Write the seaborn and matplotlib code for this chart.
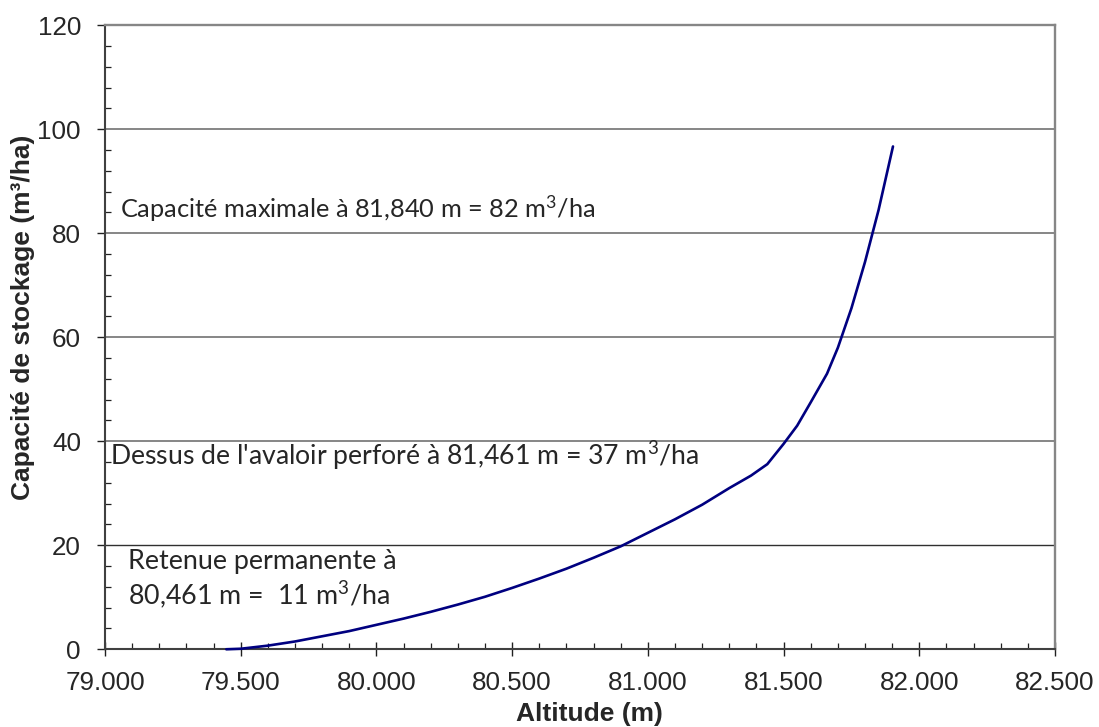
import matplotlib
matplotlib.use("Agg")
import matplotlib.pyplot as plt
import seaborn as sns
import pandas as pd
from matplotlib.ticker import MultipleLocator, FuncFormatter

altitude = [79.447, 79.5, 79.6, 79.7, 79.8, 79.9, 80.0, 80.1, 80.2, 80.3, 80.4,
            80.5, 80.6, 80.7, 80.8, 80.9, 81.0, 81.1, 81.2, 81.3, 81.38, 81.44,
            81.5, 81.55, 81.6, 81.66, 81.7, 81.75, 81.8, 81.85, 81.903]
capacite = [0.0, 0.1, 0.7, 1.5, 2.5, 3.5, 4.7, 5.9, 7.2, 8.6, 10.1,
            11.8, 13.6, 15.5, 17.6, 19.8, 22.4, 25.0, 27.8, 31.0, 33.4, 35.6,
            39.5, 43.0, 47.5, 53.0, 58.0, 65.6, 74.5, 84.5, 96.7]

annot_lines = [r"Capacité maximale à 81,840 m = 82 m$^\mathrm{3}$/ha",
               r"Dessus de l'avaloir perforé à 81,461 m = 37 m$^\mathrm{3}$/ha",
               r"Retenue permanente à",
               r"80,461 m =  11 m$^\mathrm{3}$/ha"]

df = pd.DataFrame({"Altitude": altitude, "Capacite": capacite})

sns.set_style("white")
plt.rcParams['font.family'] = ['Liberation Sans', 'DejaVu Sans']
plt.rcParams['mathtext.fontset'] = 'custom'
plt.rcParams['mathtext.rm'] = 'Lato'
plt.rcParams['mathtext.it'] = 'Lato:italic'
plt.rcParams['mathtext.bf'] = 'Lato:bold'

fig = plt.figure(figsize=(10.99, 7.27), dpi=100)
ax = fig.add_axes([0.0955, 0.1069, 0.8645, 0.8583])

sns.lineplot(data=df, x="Altitude", y="Capacite", sort=False, ax=ax,
             color="#000080", linewidth=1.9, zorder=5, clip_on=False)

ax.set_xlim(79.0, 82.5)
ax.set_ylim(0, 120)
ax.xaxis.set_major_locator(MultipleLocator(0.5))
ax.xaxis.set_minor_locator(MultipleLocator(0.1))
ax.yaxis.set_major_locator(MultipleLocator(20))
ax.yaxis.set_minor_locator(MultipleLocator(4))
ax.xaxis.set_major_formatter(FuncFormatter(lambda v, p: f"{v:.3f}"))

for yv in [40, 60, 80, 100]:
    ax.axhline(yv, color="#868686", linewidth=1.4, zorder=0)
ax.axhline(20, color="#303030", linewidth=1.0, zorder=0)

for s in ["top", "right"]:
    ax.spines[s].set_color("#868686")
    ax.spines[s].set_linewidth(1.7)
for s in ["left", "bottom"]:
    ax.spines[s].set_color("#404040")
    ax.spines[s].set_linewidth(1.5)

ax.tick_params(axis="x", which="major", direction="inout", length=9.4, width=1.0,
               color="#202020", labelsize=18.7, pad=11, bottom=True)
ax.tick_params(axis="x", which="minor", direction="in", length=4.3, width=0.9,
               color="#202020", bottom=True)
ax.tick_params(axis="y", which="major", direction="out", length=5.8, width=1.0,
               color="#202020", labelsize=18.7, pad=11.5, left=True)
ax.tick_params(axis="y", which="minor", direction="in", length=4.1, width=0.9,
               color="#202020", left=True)

ax.set_xlabel("Altitude (m)", fontsize=19, fontweight="bold")
ax.set_ylabel("Capacité de stockage (m³/ha)", fontsize=19, fontweight="bold")
ax.xaxis.set_label_coords(0.5095, -0.085)
ax.yaxis.set_label_coords(-0.0737, 0.5325)

afont = ['Lato', 'DejaVu Sans']
akw = dict(family=afont, va="baseline", ha="left")
ax.text(79.0553, 83.1, annot_lines[0], fontsize=18.3, **akw)
ax.text(79.0184, 35.44, annot_lines[1], fontsize=19.2, **akw)
ax.text(79.0859, 15.4, annot_lines[2], fontsize=19.4, **akw)
ax.text(79.0859, 8.5, annot_lines[3], fontsize=19.4, **akw)

fig.savefig("out.png", dpi=100)
